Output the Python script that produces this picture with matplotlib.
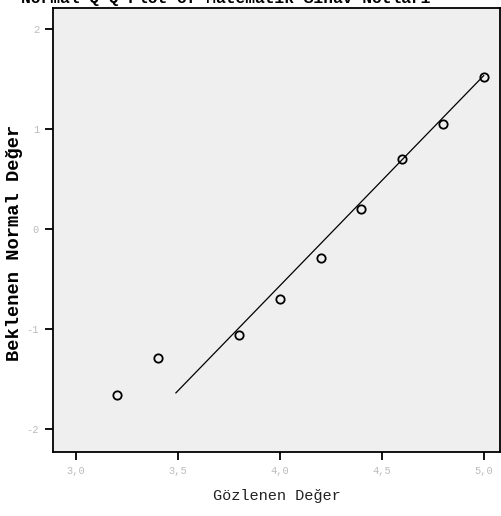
import matplotlib
matplotlib.use('Agg')
import matplotlib.pyplot as plt
import numpy as np

# observed values and their expected normal scores
observed = [3.2, 3.4, 3.8, 4.0, 4.2, 4.4, 4.6, 4.8, 5.0]
expected = [-1.66, -1.29, -1.06, -0.70, -0.29, 0.20, 0.70, 1.05, 1.52]

# reference line parameters (expected = (x - mean) / sd)
line_mean = 4.27
line_sd = 0.476
line_range = [3.49, 5.0]

x_ticks = [3.0, 3.5, 4.0, 4.5, 5.0]
x_ticklabels = ['3,0', '3,5', '4,0', '4,5', '5,0']
y_ticks = [-2, -1, 0, 1, 2]
y_ticklabels = ['-2', '-1', '0', '1', '2']

W, H = 501, 516
fig = plt.figure(figsize=(W / 100, H / 100), dpi=100)
fig.patch.set_facecolor('white')

left, right, top, bottom = 53, 500, 8, 452
ax = fig.add_axes([left / W, 1 - bottom / H, (right - left) / W, (bottom - top) / H])
ax.set_facecolor('#efefef')

line_x = np.array(line_range)
ax.plot(line_x, (line_x - line_mean) / line_sd, color='black', lw=0.9)
ax.plot(observed, expected, linestyle='', marker='o', markersize=6,
        markerfacecolor='none', markeredgecolor='black', markeredgewidth=1.3)

ax.set_xlim(2.887, 5.08)
ax.set_ylim(-2.23, 2.21)

ax.set_xticks(x_ticks)
ax.set_xticklabels(x_ticklabels)
ax.set_yticks(y_ticks)
ax.set_yticklabels(y_ticklabels)
ax.tick_params(direction='out', length=6, width=1.3, color='black',
               labelcolor='#bbbbbb', labelsize=7.5, pad=4)
for lab in ax.get_xticklabels() + ax.get_yticklabels():
    lab.set_family('Liberation Mono')

for side in ['left', 'bottom', 'top', 'right']:
    ax.spines[side].set_linewidth(1.3)
    ax.spines[side].set_color('black')

ax.set_xlabel('Gözlenen Değer', family='Liberation Mono', fontsize=11,
              color='#222222')
ax.xaxis.set_label_coords((277 - left) / (right - left), -(496 - bottom) / (bottom - top))
ax.xaxis.label.set_va('center')

ax.set_ylabel('Beklenen Normal Değer', family='Liberation Mono', fontsize=13.5,
              fontweight='bold', color='black')
ax.yaxis.set_label_coords(-(left - 15) / (right - left), (bottom - 243) / (bottom - top))
ax.yaxis.label.set_va('center')

# title sits at the top edge, only its lower part shows
fig.text(226 / W, 1 - 3 / H, 'Normal Q-Q Plot of Matematik Sınav Notları',
         family='Liberation Mono', fontweight='bold', fontsize=11.7,
         ha='center', va='baseline')

fig.savefig('out.png', dpi=100)
